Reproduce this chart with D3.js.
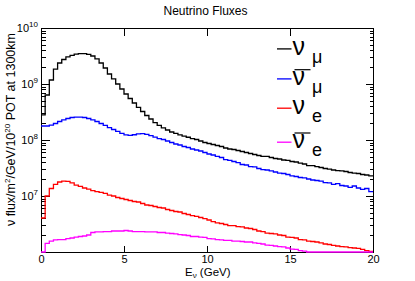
<!DOCTYPE html>
<html><head><meta charset="utf-8">
<script src="https://cdn.jsdelivr.net/npm/d3@7"></script>
<style>
body{margin:0;background:#fff}
svg{display:block}
text{font-family:"Liberation Sans",Arial,Helvetica,sans-serif;fill:#000}
</style>
</head><body>
<svg id="c" width="415" height="281"></svg>
<script>
// ---- data ----
const binEdges = d3.range(0, 20.001, 0.25);          // 80 bins of 0.25 GeV
const xTicks = [0, 5, 10, 15, 20];
const yDecadeExp = [7, 8, 9, 10];                     // labelled decades
const seriesNames = ["numu", "numubar", "nue", "nuebar"];

const numu = [
 2.80e8, 6.36e8, 1.18e9, 1.85e9, 2.37e9, 2.74e9, 3.04e9, 3.25e9, 3.41e9, 3.50e9,
 3.50e9, 3.39e9, 3.16e9, 2.80e9, 2.37e9, 1.93e9, 1.51e9, 1.23e9, 1.00e9, 8.14e8,
 6.63e8, 5.51e8, 4.58e8, 3.81e8, 3.23e8, 2.74e8, 2.37e8, 2.05e8, 1.82e8, 1.64e8,
 1.51e8, 1.39e8, 1.31e8, 1.23e8, 1.17e8, 1.12e8, 1.06e8, 1.02e8, 9.60e7, 9.03e7,
 8.66e7, 8.31e7, 7.98e7, 7.65e7, 7.20e7, 6.91e7, 6.77e7, 6.49e7, 6.23e7, 5.98e7,
 5.74e7, 5.51e7, 5.29e7, 5.08e7, 5.08e7, 4.87e7, 4.67e7, 4.58e7, 4.39e7, 4.31e7,
 4.13e7, 4.05e7, 3.88e7, 3.73e7, 3.50e7, 3.50e7, 3.36e7, 3.23e7, 3.10e7, 3.03e7,
 2.91e7, 2.85e7, 2.80e7, 2.74e7, 2.63e7, 2.57e7, 2.52e7, 2.42e7, 2.37e7, 2.28e7];

const numubar = [
 1.78e8, 1.78e8, 1.85e8, 1.97e8, 2.14e8, 2.28e8, 2.42e8, 2.52e8, 2.57e8, 2.57e8,
 2.52e8, 2.42e8, 2.28e8, 2.14e8, 1.97e8, 1.82e8, 1.67e8, 1.54e8, 1.42e8, 1.31e8,
 1.23e8, 1.21e8, 1.24e8, 1.29e8, 1.30e8, 1.26e8, 1.20e8, 1.13e8, 1.06e8, 1.02e8,
 9.60e7, 9.03e7, 8.48e7, 8.14e7, 7.65e7, 7.35e7, 6.91e7, 6.63e7, 6.36e7, 5.98e7,
 5.62e7, 5.40e7, 5.08e7, 4.87e7, 4.48e7, 4.31e7, 4.13e7, 3.96e7, 3.65e7, 3.58e7,
 3.36e7, 3.30e7, 3.10e7, 2.97e7, 2.91e7, 2.80e7, 2.68e7, 2.57e7, 2.52e7, 2.42e7,
 2.28e7, 2.23e7, 2.14e7, 2.10e7, 2.01e7, 1.93e7, 1.89e7, 1.85e7, 1.74e7, 1.71e7,
 1.61e7, 1.67e7, 1.54e7, 1.51e7, 1.42e7, 1.51e7, 1.39e7, 1.31e7, 1.36e7, 1.20e7];

const nue = [
 4.05e6, 1.00e7, 1.36e7, 1.61e7, 1.78e7, 1.85e7, 1.82e7, 1.71e7, 1.57e7, 1.48e7,
 1.39e7, 1.33e7, 1.25e7, 1.20e7, 1.16e7, 1.11e7, 1.04e7, 1.00e7, 9.40e6, 9.03e6,
 8.66e6, 8.31e6, 7.98e6, 7.81e6, 7.35e6, 6.91e6, 6.77e6, 6.49e6, 6.23e6, 6.11e6,
 5.74e6, 5.51e6, 5.29e6, 5.18e6, 4.87e6, 4.67e6, 4.48e6, 4.31e6, 4.13e6, 3.96e6,
 3.73e6, 3.50e6, 3.30e6, 3.23e6, 3.10e6, 2.97e6, 2.97e6, 2.85e6, 2.80e6, 2.68e6,
 2.63e6, 2.52e6, 2.37e6, 2.32e6, 2.18e6, 2.14e6, 2.10e6, 2.01e6, 1.97e6, 1.85e6,
 1.82e6, 1.78e6, 1.67e6, 1.64e6, 1.57e6, 1.54e6, 1.51e6, 1.45e6, 1.39e6, 1.36e6,
 1.31e6, 1.28e6, 1.25e6, 1.23e6, 1.20e6, 1.18e6, 1.16e6, 1.11e6, 1.06e6, 1.02e6];

const nuebar = [
 0,      1.42e6, 1.57e6, 1.64e6, 1.67e6, 1.67e6, 1.74e6, 1.78e6, 1.85e6, 1.89e6,
 1.93e6, 2.01e6, 2.23e6, 2.28e6, 2.28e6, 2.32e6, 2.32e6, 2.37e6, 2.37e6, 2.37e6,
 2.42e6, 2.37e6, 2.32e6, 2.32e6, 2.32e6, 2.28e6, 2.28e6, 2.28e6, 2.23e6, 2.23e6,
 2.18e6, 2.14e6, 2.10e6, 2.05e6, 2.01e6, 1.97e6, 1.89e6, 1.89e6, 1.85e6, 1.82e6,
 1.74e6, 1.71e6, 1.67e6, 1.64e6, 1.61e6, 1.61e6, 1.57e6, 1.57e6, 1.54e6, 1.51e6,
 1.51e6, 1.45e6, 1.42e6, 1.39e6, 1.33e6, 1.31e6, 1.28e6, 1.25e6, 1.23e6, 1.18e6,
 1.13e6, 1.11e6, 1.06e6, 1.04e6, 0,      0,      0,      0,      0,      0,
 0,      0,      0,      0,      0,      0,      0,      0,      0,      0];

const legendSymbol = ["ν", "ν", "ν", "ν"];
const legendSub = ["μ", "μ", "e", "e"];
const legendBar = [false, true, false, true];

// ---- styles ----
const colors = ["#000000", "#0000ff", "#ff0000", "#ff00ff"];
const seriesValues = [numu, numubar, nue, nuebar];

// ---- layout ----
const L = 41, R = 373, T = 28, B = 252;
const svg = d3.select("#c");

const x = d3.scaleLinear().domain([0, 20]).range([L, R]);
const y = d3.scaleLog().domain([1e6, 1e10]).range([B, T]);
const yMin = y.domain()[0];

// title
svg.append("text").attr("x", 205.5).attr("y", 15).attr("text-anchor", "middle")
  .attr("font-size", 12).text("Neutrino Fluxes");

// frame
svg.append("rect").attr("x", L + 0.5).attr("y", T + 0.5)
  .attr("width", R - L).attr("height", B - T)
  .attr("fill", "none").attr("stroke", "#000").attr("stroke-width", 1)
  .attr("shape-rendering", "crispEdges");

const ax = svg.append("g").attr("stroke", "#000").attr("stroke-width", 1)
  .attr("shape-rendering", "crispEdges");

// x ticks (bottom and top)
xTicks.forEach(t => {
  const px = Math.round(x(t)) + 0.5;
  ax.append("line").attr("x1", px).attr("x2", px).attr("y1", B + 0.5).attr("y2", B + 0.5 - 7);
  ax.append("line").attr("x1", px).attr("x2", px).attr("y1", T + 0.5).attr("y2", T + 0.5 + 7);
});
svg.append("g").selectAll("text").data(xTicks).join("text")
  .attr("x", d => x(d) + 0.5).attr("y", 262.5).attr("text-anchor", "middle")
  .attr("font-size", 11).text(d => d);

// y ticks (log): majors and minors on both sides
for (let e = 6; e < 10; e++) {
  for (let m = 1; m <= 9; m++) {
    const v = m * Math.pow(10, e);
    const py = Math.round(y(v)) + 0.5;
    const len = m === 1 ? 8 : 4;
    ax.append("line").attr("x1", L + 0.5).attr("x2", L + 0.5 + len).attr("y1", py).attr("y2", py);
    ax.append("line").attr("x1", R + 0.5).attr("x2", R + 0.5 - len).attr("y1", py).attr("y2", py);
  }
}
yDecadeExp.forEach(e => {
  const t = svg.append("text").attr("x", 38).attr("y", y(Math.pow(10, e)) + 4)
    .attr("text-anchor", "end").attr("font-size", 11);
  t.append("tspan").text("10");
  t.append("tspan").attr("dy", -5).attr("font-size", 8).text(e);
});

// axis titles
const xt = svg.append("text").attr("x", 185).attr("y", 275.5).attr("font-size", 11.5);
xt.append("tspan").text("E");
xt.append("tspan").attr("dy", 2).attr("font-size", 8).text("ν");
xt.append("tspan").attr("dy", -2).text(" (GeV)");

const yt = svg.append("text").attr("transform", "translate(15,33) rotate(-90)")
  .attr("text-anchor", "end").attr("font-size", 12.5);
yt.append("tspan").text("ν flux/m");
yt.append("tspan").attr("dy", -5).attr("font-size", 8).text("2");
yt.append("tspan").attr("dy", 5).text("/GeV/10");
yt.append("tspan").attr("dy", -5).attr("font-size", 8).text("20");
yt.append("tspan").attr("dy", 5).text(" POT at 1300km");

// histograms
const line = d3.line()
  .x(d => x(d[0]))
  .y(d => y(Math.max(d[1], yMin)))
  .curve(d3.curveStepAfter);

seriesValues.forEach((vals, i) => {
  const pts = vals.map((v, k) => [binEdges[k], v]);
  pts.push([binEdges[vals.length], vals[vals.length - 1]]);
  svg.append("path").attr("d", line(pts))
    .attr("fill", "none").attr("stroke", colors[i]).attr("stroke-width", 1.3)
    .attr("class", seriesNames[i]);
});

// legend
const legBase = [54.7, 84.7, 114, 148];
legendSymbol.forEach((s, i) => {
  const g = svg.append("g");
  g.append("line").attr("x1", 277).attr("x2", 291.5)
    .attr("y1", legBase[i] - 5.8).attr("y2", legBase[i] - 5.8)
    .attr("stroke", colors[i]).attr("stroke-width", 1.3);
  g.append("text").attr("x", 292.5).attr("y", legBase[i])
    .attr("font-family", "DejaVu Sans").attr("font-size", 25).text(s);
  g.append("text").attr("x", 312).attr("y", legBase[i] + 8)
    .attr("font-size", 18).text(legendSub[i]);
  if (legendBar[i]) {
    g.append("line").attr("x1", 294.5).attr("x2", 310.5)
      .attr("y1", legBase[i] - 15).attr("y2", legBase[i] - 15)
      .attr("stroke", "#000").attr("stroke-width", 1.2);
  }
});
</script>
</body></html>
